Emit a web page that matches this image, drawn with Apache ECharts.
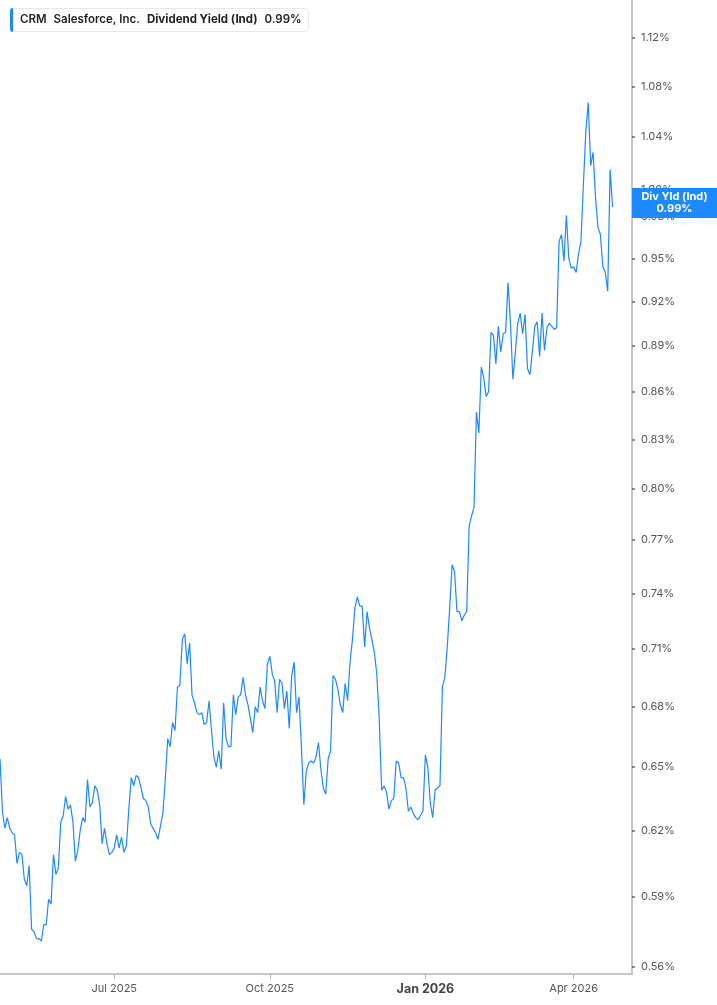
<!DOCTYPE html>
<html>
<head>
<meta charset="utf-8">
<script src="https://cdn.jsdelivr.net/npm/echarts@6/dist/echarts.min.js"></script>
<style>
  html, body { margin: 0; padding: 0; background: #fff; }
  #chart { width: 717px; height: 1005px; }
</style>
</head>
<body>
<div id="chart"></div>
<script>
// CRM dividend yield (indicated), daily, in percent
const divYield = [
    0.654, 0.629, 0.621, 0.626, 0.621, 0.619, 0.618, 0.605, 0.610, 0.609,
    0.598, 0.595, 0.604, 0.576, 0.575, 0.572, 0.572, 0.571, 0.578, 0.578,
    0.589, 0.587, 0.609, 0.600, 0.603, 0.624, 0.627, 0.636, 0.630, 0.632,
    0.624, 0.606, 0.611, 0.620, 0.626, 0.624, 0.644, 0.631, 0.633, 0.641,
    0.639, 0.632, 0.614, 0.621, 0.614, 0.609, 0.610, 0.612, 0.618, 0.612,
    0.617, 0.610, 0.613, 0.630, 0.645, 0.641, 0.646, 0.645, 0.640, 0.635,
    0.634, 0.631, 0.623, 0.621, 0.619, 0.616, 0.622, 0.628, 0.644, 0.664,
    0.660, 0.672, 0.668, 0.690, 0.691, 0.715, 0.718, 0.702, 0.713, 0.686,
    0.682, 0.677, 0.676, 0.677, 0.671, 0.672, 0.683, 0.668, 0.655, 0.650,
    0.658, 0.649, 0.682, 0.664, 0.660, 0.660, 0.686, 0.676, 0.685, 0.686,
    0.695, 0.686, 0.681, 0.674, 0.667, 0.680, 0.677, 0.690, 0.683, 0.679,
    0.702, 0.706, 0.697, 0.693, 0.677, 0.694, 0.692, 0.679, 0.688, 0.669,
    0.696, 0.703, 0.677, 0.685, 0.660, 0.632, 0.648, 0.652, 0.653, 0.652,
    0.655, 0.662, 0.649, 0.640, 0.637, 0.654, 0.658, 0.696, 0.694, 0.689,
    0.681, 0.677, 0.692, 0.683, 0.703, 0.715, 0.732, 0.738, 0.733, 0.733,
    0.711, 0.730, 0.721, 0.715, 0.708, 0.697, 0.674, 0.639, 0.641, 0.638,
    0.630, 0.634, 0.635, 0.653, 0.652, 0.645, 0.645, 0.640, 0.629, 0.631,
    0.628, 0.626, 0.625, 0.627, 0.629, 0.656, 0.650, 0.633, 0.626, 0.639,
    0.640, 0.641, 0.690, 0.695, 0.711, 0.732, 0.756, 0.752, 0.730, 0.730,
    0.725, 0.728, 0.730, 0.778, 0.784, 0.789, 0.847, 0.834, 0.876, 0.869,
    0.857, 0.860, 0.899, 0.897, 0.878, 0.903, 0.886, 0.898, 0.899, 0.933,
    0.905, 0.868, 0.885, 0.905, 0.912, 0.898, 0.911, 0.875, 0.871, 0.886,
    0.903, 0.906, 0.883, 0.912, 0.887, 0.902, 0.905, 0.903, 0.901, 0.902,
    0.962, 0.967, 0.948, 0.981, 0.950, 0.943, 0.944, 0.940, 0.953, 0.962,
    1.004, 1.044, 1.067, 1.018, 1.028, 0.994, 0.972, 0.967, 0.944, 0.940,
    0.927, 1.015, 0.987
];

// right-hand axis ticks (log scale)
const yTicks = [0.56, 0.59, 0.62, 0.65, 0.68, 0.71, 0.74, 0.77, 0.80, 0.83,
    0.86, 0.89, 0.92, 0.95, 0.98, 1.00, 1.04, 1.08, 1.12];

const lastYield = 0.99;
const monthNames = ['Jan', 'Feb', 'Mar', 'Apr', 'May', 'Jun', 'Jul', 'Aug', 'Sep', 'Oct', 'Nov', 'Dec'];
const quarterMonths = ['01', '04', '07', '10'];

// market holidays in the range
const holidays = ['2025-05-26', '2025-06-19', '2025-07-04', '2025-09-01', '2025-11-27',
    '2025-12-25', '2026-01-01', '2026-01-19', '2026-02-16', '2026-04-03'];

// trading days, with a few empty days after the last close
const dates = [];
for (let d = new Date(Date.UTC(2025, 3, 23)); d <= new Date(Date.UTC(2026, 4, 6)); d.setUTCDate(d.getUTCDate() + 1)) {
    const day = d.getUTCDay();
    const s = d.toISOString().slice(0, 10);
    if (day === 0 || day === 6 || holidays.includes(s)) continue;
    dates.push(s);
}

function isQuarterStart(index) {
    if (index === 0) return false;
    const m = dates[index].slice(5, 7);
    return m !== dates[index - 1].slice(5, 7) && quarterMonths.includes(m);
}

const font = 'Inter, "Noto Sans", sans-serif';
const blue = '#1e88ff';

const myChart = echarts.init(document.getElementById('chart'));

const option = {
    backgroundColor: '#fff',
    animation: false,
    title: {
        left: 10,
        top: 8,
        padding: [0, 7, 0, 0],
        backgroundColor: '#fff',
        borderColor: '#e8e8e8',
        borderWidth: 1,
        borderRadius: 3,
        text: '{bar|}{g|}{b|CRM}{g|}{b|Salesforce, Inc.}{g|}{n|Dividend Yield (Ind)}{g|}{b|0.99%}',
        textStyle: {
            rich: {
                bar: { width: 3, height: 24, backgroundColor: blue, borderRadius: [3, 0, 0, 3] },
                g: { width: 7 },
                b: { fontFamily: font, fontSize: 11.5, fontWeight: 600, color: '#222' },
                n: { fontFamily: font, fontSize: 11.5, color: '#222' }
            }
        }
    },
    grid: {
        left: 0,
        right: 85,
        top: 0,
        bottom: 31,
        outerBoundsMode: 'none'
    },
    xAxis: {
        type: 'category',
        data: dates,
        boundaryGap: false,
        axisLine: { lineStyle: { color: '#b5b5b5', width: 1.5 } },
        axisTick: {
            interval: isQuarterStart,
            length: 5,
            lineStyle: { color: '#b5b5b5' }
        },
        axisLabel: {
            interval: isQuarterStart,
            margin: 9,
            fontFamily: font,
            fontSize: 11,
            color: '#555',
            formatter: function (val) {
                const m = parseInt(val.slice(5, 7), 10);
                const label = monthNames[m - 1] + ' ' + val.slice(0, 4);
                return m === 1 ? '{y|' + label + '}' : label;
            },
            rich: {
                y: { fontFamily: font, fontSize: 12.5, fontWeight: 'bold', color: '#444' }
            }
        },
        splitLine: { show: false }
    },
    yAxis: {
        type: 'log',
        position: 'right',
        min: 0.5571,
        max: 1.1518,
        axisLine: { show: true, lineStyle: { color: '#b5b5b5', width: 1.5 } },
        axisTick: {
            show: true,
            customValues: yTicks,
            length: 3,
            lineStyle: { color: '#666', width: 1.5 }
        },
        axisLabel: {
            customValues: yTicks,
            margin: 9,
            fontFamily: font,
            fontSize: 11,
            color: '#555',
            formatter: v => v.toFixed(2) + '%'
        },
        splitLine: { show: false }
    },
    series: [
        {
            name: 'Div Yld (Ind)',
            type: 'line',
            data: divYield,
            showSymbol: false,
            lineStyle: { color: blue, width: 1.2 },
            itemStyle: { color: blue },
            markLine: {
                silent: true,
                symbol: 'none',
                z: 10,
                lineStyle: { color: 'rgba(0,0,0,0)', width: 0, type: 'solid' },
                data: [{ yAxis: lastYield }],
                label: {
                    show: true,
                    position: 'end',
                    distance: 0,
                    formatter: '{c|Div Yld (Ind)}\n{c|0.99%}',
                    backgroundColor: blue,
                    padding: [3, 0, 3, 0],
                    rich: {
                        c: { width: 85, align: 'center', fontFamily: font, fontSize: 11, fontWeight: 'bold', color: '#fff', lineHeight: 12 }
                    }
                }
            }
        }
    ]
};

myChart.setOption(option);
</script>
</body>
</html>
